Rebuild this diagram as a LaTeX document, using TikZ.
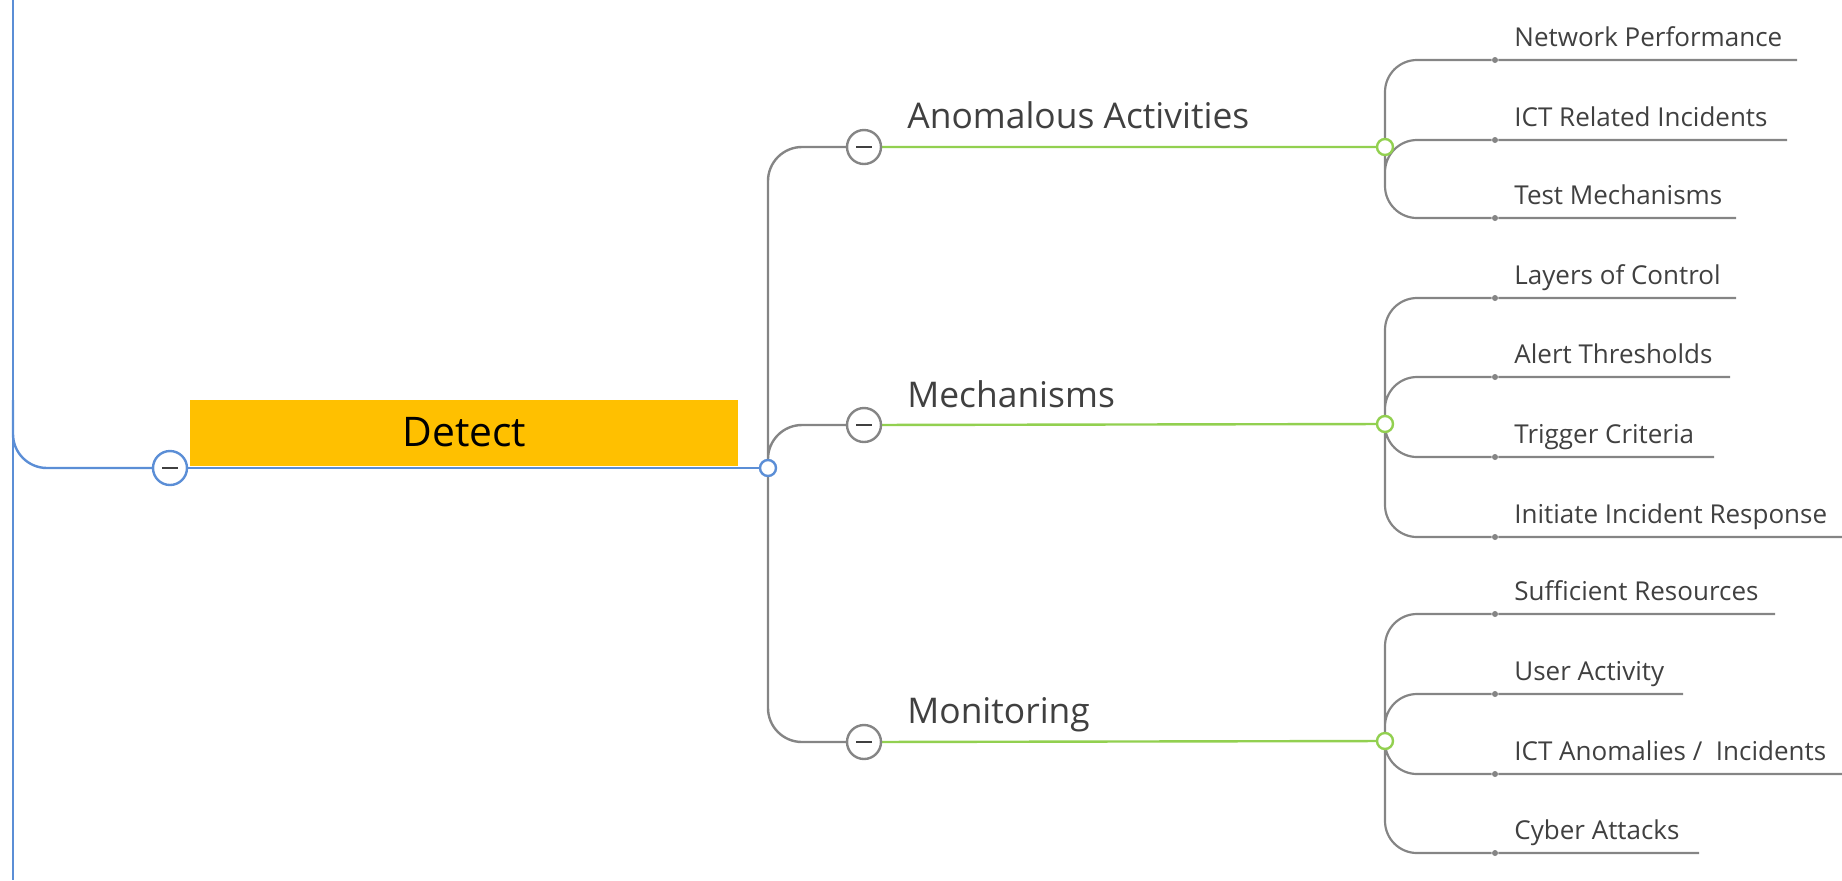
\documentclass[tikz,border=0pt]{standalone}
\usepackage{fontspec}
\setmainfont{Open Sans}
\usetikzlibrary{backgrounds}
\definecolor{mmblue}{HTML}{5B8ED6}
\definecolor{mmgray}{HTML}{858585}
\definecolor{mmgreen}{HTML}{92D050}
\definecolor{mmyellow}{HTML}{FFC000}
\definecolor{mmtext}{HTML}{404040}
\begin{document}
\begin{tikzpicture}[x=0.5pt,y=-0.5pt,
  minus node/.style={circle,draw=mmgray,fill=white,line width=1.2pt,minimum size=17pt,inner sep=0pt,
    path picture={\draw[line width=1.4pt,mmtext] ([xshift=-4pt]path picture bounding box.center) -- ([xshift=4pt]path picture bounding box.center);}},
  open node/.style={circle,draw=mmgreen,fill=white,line width=1.2pt,minimum size=8pt,inner sep=0pt},
  leaf dot/.style={circle,fill=mmgray,inner sep=0pt,minimum size=3pt},
  branch text/.style={anchor=base west,inner sep=0pt,text=mmtext,font=\fontsize{17.7}{21}\selectfont},
  leaf text/.style={anchor=base west,inner sep=0pt,text=mmtext,font=\fontsize{13}{16}\selectfont},
  blue line/.style={draw=mmblue,line width=1.2pt},
  green line/.style={draw=mmgreen,line width=1.2pt},
  trunk/.style={draw=mmgray,line width=1.2pt,rounded corners=17pt},
  twig/.style={draw=mmgray,line width=1.1pt,rounded corners=16pt}]

  \useasboundingbox (0,0) rectangle (1842,880);

  % root
  \coordinate (top) at (13,0);
  \coordinate (bottom) at (13,880);
  \coordinate (bend) at (13,400);
  \node[fill=mmyellow,minimum width=274pt,minimum height=33pt,inner sep=0pt,anchor=south west,
    font=\fontsize{20.4}{24}\selectfont] (detect) at (190,466) {Detect};
  \node[minus node,draw=mmblue] (root) at (170,468) {};
  \node[open node,draw=mmblue] (hub) at (768,468) {};

  % branches
  \node[minus node] (anom) at (864,147) {};
  \node[minus node] (mech) at (864,425) {};
  \node[minus node] (moni) at (864,742) {};
  \node[open node] (ganom) at (1385,147) {};
  \node[open node] (gmech) at (1385,424) {};
  \node[open node] (gmoni) at (1385,741) {};
  \node[branch text] at (907,128) {Anomalous Activities};
  \node[branch text] at (907,407) {Mechanisms};
  \node[branch text] at (907,723) {Monitoring};

  % leaves
  \node[leaf dot] (d1) at (1495,60) {};
  \node[leaf dot] (d2) at (1495,140) {};
  \node[leaf dot] (d3) at (1495,218) {};
  \node[leaf dot] (d4) at (1495,298) {};
  \node[leaf dot] (d5) at (1495,377) {};
  \node[leaf dot] (d6) at (1495,457) {};
  \node[leaf dot] (d7) at (1495,537) {};
  \node[leaf dot] (d8) at (1495,614) {};
  \node[leaf dot] (d9) at (1495,694) {};
  \node[leaf dot] (d10) at (1495,774) {};
  \node[leaf dot] (d11) at (1495,853) {};
  \coordinate (e1) at (1797,60);
  \coordinate (e2) at (1787,140);
  \coordinate (e3) at (1736,218);
  \coordinate (e4) at (1736,298);
  \coordinate (e5) at (1730,377);
  \coordinate (e6) at (1714,457);
  \coordinate (e7) at (1842,537);
  \coordinate (e8) at (1775,614);
  \coordinate (e9) at (1683,694);
  \coordinate (e10) at (1842,774);
  \coordinate (e11) at (1699,853);
  \node[leaf text] at (1514,46) {Network Performance};
  \node[leaf text] at (1514,126) {ICT Related Incidents};
  \node[leaf text] at (1514,204) {Test Mechanisms};
  \node[leaf text] at (1514,284) {Layers of Control};
  \node[leaf text] at (1514,363) {Alert Thresholds};
  \node[leaf text] at (1514,443) {Trigger Criteria};
  \node[leaf text] at (1514,523) {Initiate Incident Response};
  \node[leaf text] at (1514,600) {Sufficient Resources};
  \node[leaf text] at (1514,680) {User Activity};
  \node[leaf text] at (1514,760) {ICT Anomalies /\ \ Incidents};
  \node[leaf text] at (1514,839) {Cyber Attacks};

  \begin{scope}[on background layer]
    \path[blue line] (top) -- (bottom);
    \path[blue line,rounded corners=17pt] (bend) |- (root);
    \path[blue line] (root) -- (hub);
    \path[trunk] (hub.center) |- (anom) (hub.center) |- (mech) (hub.center) |- (moni);
    \path[green line] (anom) -- (ganom) (mech) -- (gmech) (moni) -- (gmoni);
    \path[twig] (ganom.center) |- (d1) -- (e1) (ganom.center) |- (d2) -- (e2) (ganom.center) |- (d3) -- (e3);
    \path[twig] (gmech.center) |- (d4) -- (e4) (gmech.center) |- (d5) -- (e5)
      (gmech.center) |- (d6) -- (e6) (gmech.center) |- (d7) -- (e7);
    \path[twig] (gmoni.center) |- (d8) -- (e8) (gmoni.center) |- (d9) -- (e9)
      (gmoni.center) |- (d10) -- (e10) (gmoni.center) |- (d11) -- (e11);
  \end{scope}
\end{tikzpicture}
\end{document}
